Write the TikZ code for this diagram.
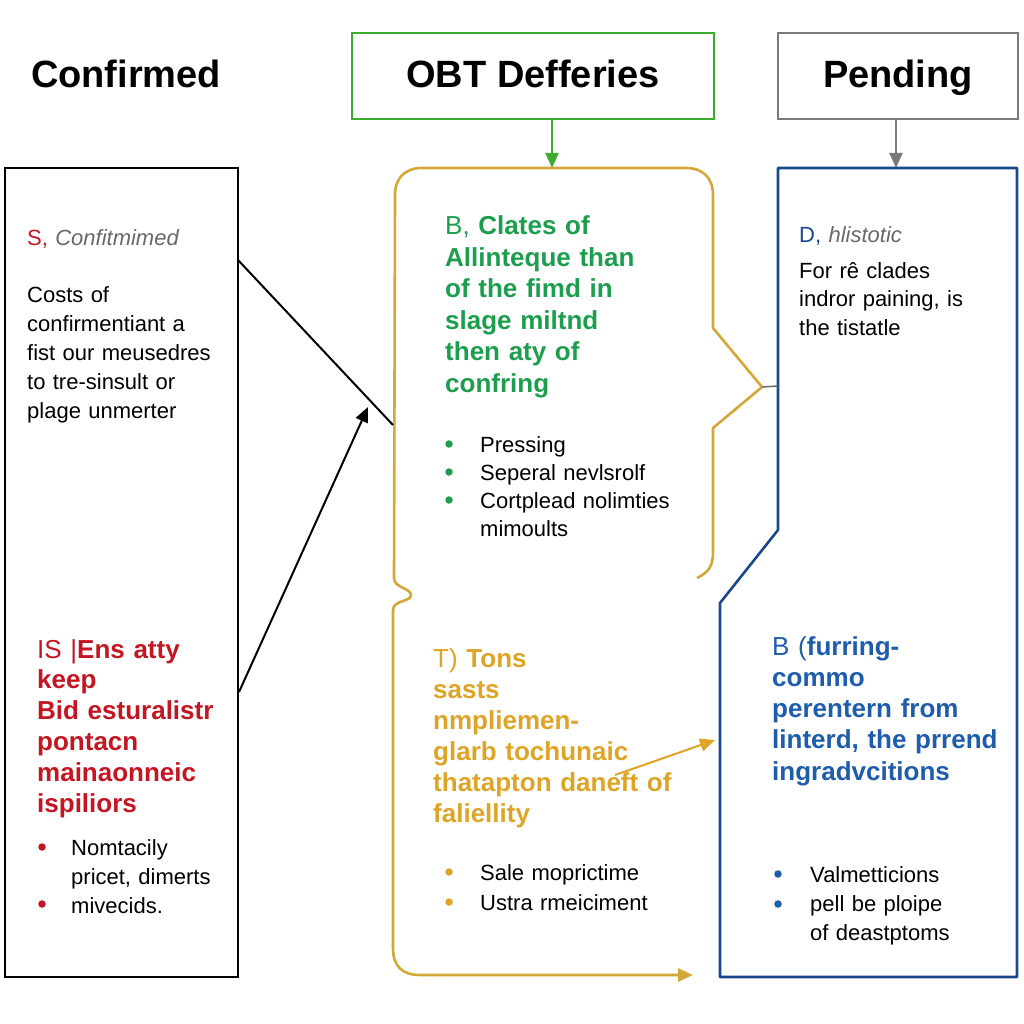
\documentclass[tikz,border=0pt]{standalone}
\usepackage{fontspec}
\setmainfont{Liberation Sans}
\usetikzlibrary{arrows.meta}
\definecolor{cred}{RGB}{195,22,34}
\definecolor{cgreen}{RGB}{28,158,78}
\definecolor{cgreenbox}{RGB}{60,172,48}
\definecolor{cgold}{RGB}{222,164,38}
\definecolor{cgoldline}{RGB}{212,168,56}
\definecolor{cblue}{RGB}{30,92,172}
\definecolor{cbluebox}{RGB}{26,72,142}
\definecolor{cgraybox}{RGB}{122,122,122}
\definecolor{cgraytext}{RGB}{105,105,105}
\tikzset{
  bodytext/.style={anchor=base west, inner sep=0pt, text width=320pt, align=left, font=\fontsize{22}{29}\selectfont},
  headtext/.style={anchor=base west, inner sep=0pt, text width=320pt, align=left, font=\fontsize{26}{31}\selectfont\bfseries},
  dotbullet/.style={circle, inner sep=0pt, minimum size=7.5pt},
  titletext/.style={anchor=base, inner sep=0pt, font=\fontsize{38}{44}\selectfont\bfseries},
  topbox/.style={draw, line width=2.6pt, inner sep=0pt},
  shapeline/.style={line width=2.6pt, line join=round},
  tip/.style={-{Triangle[length=15pt,width=13pt]}},
}
\begin{document}
\begin{tikzpicture}[x=1pt,y=-1pt]
\useasboundingbox (0,0) rectangle (1024,1024);
\fill[white] (0,0) rectangle (1024,1024);

% --- top row ---
\node[titletext] (conf) at (126,88) {Confirmed};
\node[topbox, draw=cgreenbox, minimum width=362pt, minimum height=86pt] (obt) at (533,76) {};
\node[titletext] (obtt) at (533,88) {OBT Defferies};
\node[topbox, draw=cgraybox, minimum width=240pt, minimum height=86pt] (pend) at (898,76) {};
\node[titletext] (pendt) at (898,88) {Pending};

% --- connector end points ---
\coordinate (ytop) at (552,168);
\coordinate (btop) at (896,168);
\coordinate (lA) at (238,260);
\coordinate (yA) at (393,425);
\coordinate (lB) at (239,692);
\coordinate (aB) at (368,407);
\coordinate (yC) at (615,775);
\coordinate (bC) at (715,740);
\coordinate (braceTip) at (762,387);
\coordinate (bL) at (778,386);

\draw[cgreenbox, line width=2pt, tip] (obt.south -| ytop) -- (ytop);
\draw[cgraybox, line width=2pt, tip] (pend.south -| btop) -- (btop);

% --- left black box ---
\draw[line width=2.6pt] (5,168) rectangle (238,977);

% --- blue shape ---
\draw[cbluebox, shapeline] (778,168) -- (1017,168) -- (1017,977) -- (720,977) -- (720,603) -- (778,530) -- cycle;

% --- yellow brace shape (upper) ---
\draw[cgoldline, shapeline]
  (697,578) .. controls (709,572) and (713,566) .. (713,552)
  -- (713,428) -- (braceTip) -- (713,328) -- (713,195)
  .. controls (713,178) and (703,168) .. (686,168)
  -- (422,168)
  .. controls (405,168) and (395,178) .. (395,195)
  -- (394,578)
  .. controls (394,588) and (411,588) .. (411,595)
  .. controls (411,602) and (393,600) .. (393,610);
% --- yellow (lower part with arrow) ---
\draw[cgoldline, shapeline, tip]
  (393,610) -- (393,948)
  .. controls (393,966) and (402,975) .. (420,975)
  -- (693,975);
\draw[cgraytext, line width=1.5pt] (braceTip) -- (bL);

% --- black connectors ---
\draw[line width=2pt] (lA) -- (yA);
\draw[line width=2pt, tip] (lB) -- (aB);
% --- gold arrow ---
\draw[cgold, line width=2pt, tip] (yC) -- (bC);

% --- left box texts ---
\node[bodytext] (l1) at (27,245) {{\color{cred}S,} {\color{cgraytext}\itshape Confitmimed}};
\node[bodytext] (l2) at (27,302) {Costs of\\confirmentiant a\\fist our meusedres\\to tre-sinsult or\\plage unmerter};
\node[headtext, text=cred, font=\fontsize{26}{30.8}\selectfont\bfseries] (l3) at (37,658) {{\mdseries IS |}Ens atty\\keep\\Bid esturalistr\\pontacn\\mainaonneic\\ispiliors};
\node[dotbullet, fill=cred] (lb1) at (42,847) {};
\node[dotbullet, fill=cred] (lb2) at (42,904) {};
\node[bodytext] (l4) at (71,855) {Nomtacily\\pricet, dimerts\\mivecids.};

% --- middle upper texts ---
\node[headtext, text=cgreen, font=\fontsize{26}{31.4}\selectfont\bfseries] (m1) at (445,235) {{\mdseries B,} Clates of\\Allinteque than\\of the fimd in\\slage miltnd\\then aty of\\confring};
\node[dotbullet, fill=cgreen] (mb1) at (449,444) {};
\node[dotbullet, fill=cgreen] (mb2) at (449,472) {};
\node[dotbullet, fill=cgreen] (mb3) at (449,500) {};
\node[bodytext, font=\fontsize{22}{28.3}\selectfont] (m2) at (480,452) {Pressing\\Seperal nevlsrolf\\Cortplead nolimties\\mimoults};

% --- middle lower texts ---
\node[headtext, text=cgold] (m3) at (433,667) {{\mdseries T)} Tons\\sasts\\nmpliemen-\\glarb tochunaic\\thatapton daneft of\\faliellity};
\node[dotbullet, fill=cgold] (mb4) at (449,872) {};
\node[dotbullet, fill=cgold] (mb5) at (449,902) {};
\node[bodytext, font=\fontsize{22}{30}\selectfont] (m4) at (480,880) {Sale moprictime\\Ustra rmeiciment};

% --- right upper texts ---
\node[bodytext] (r1) at (799,243) {{\color{cbluebox}D,} {\color{cgraytext}\itshape hlistotic}};
\node[bodytext, font=\fontsize{22}{28.5}\selectfont] (r2) at (799,278) {For rê clades\\indror paining, is\\the tistatle};

% --- right lower texts ---
\node[headtext, text=cblue, font=\fontsize{26}{31.3}\selectfont\bfseries] (r3) at (772,655) {{\mdseries B (}furring-\\commo\\perentern from\\linterd, the prrend\\ingradvcitions};
\node[dotbullet, fill=cblue] (rb1) at (778,874) {};
\node[dotbullet, fill=cblue] (rb2) at (778,904) {};
\node[bodytext, font=\fontsize{22}{29}\selectfont] (r4) at (810,882) {Valmetticions\\pell be ploipe\\of deastptoms};
\end{tikzpicture}
\end{document}
